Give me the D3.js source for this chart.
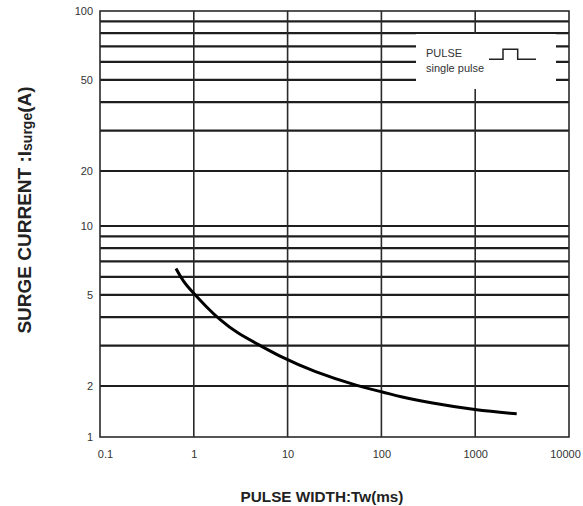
<!DOCTYPE html>
<html>
<head>
<meta charset="utf-8">
<script src="https://cdn.jsdelivr.net/npm/d3@7"></script>
<style>
  html, body { margin: 0; padding: 0; background: #fff; }
  svg { display: block; font-family: "Liberation Sans", Arial, sans-serif; }
</style>
</head>
<body>
<svg id="chart" width="583" height="506"></svg>
<script>
// ---- data ----
const xTickValues = [0.1, 1, 10, 100, 1000, 10000];
const xTickLabels = ["0.1", "1", "10", "100", "1000", "10000"];
const yTickValues = [1, 2, 5, 10, 20, 50, 100];
const yTickLabels = ["1", "2", "5", "10", "20", "50", "100"];
const xGridValues = [1, 10, 100, 1000];
const yGridValues = [2, 3, 4, 5, 6, 7, 8, 9, 10, 20, 30, 40, 50, 60, 70, 80, 90];
// pulse width (ms) and surge current (A)
const pulseWidth   = [0.646, 0.773, 0.957, 1.37, 1.9, 2.87, 5.08, 8.3, 18.8, 59, 105, 158, 330, 1010, 2770];
const surgeCurrent = [6.52, 5.71, 5.17, 4.42, 3.89, 3.41, 3.01, 2.69, 2.31, 1.98, 1.84, 1.73, 1.59, 1.44, 1.37];
const legendLines = ["PULSE", "single pulse"];

// ---- layout ----
const svg = d3.select("#chart");
const pL = 100, pR = 569, pT = 11, pB = 437;

const x = d3.scaleLog().domain([0.1, 10000]).range([pL, pR]);
// log paper as printed: piecewise log mapping
const y = d3.scaleLog().domain([1, 2, 10, 20, 100]).range([pB, 386, 226, 171, pT]);

const g = svg.append("g");

// horizontal grid lines
g.selectAll("line.hg").data(yGridValues).enter().append("line")
  .attr("class", "hg")
  .attr("x1", pL).attr("x2", pR)
  .attr("y1", d => y(d)).attr("y2", d => y(d))
  .attr("stroke", "#1e1e1e").attr("stroke-width", 2.2);

// vertical grid lines
g.selectAll("line.vg").data(xGridValues).enter().append("line")
  .attr("class", "vg")
  .attr("x1", d => x(d)).attr("x2", d => x(d))
  .attr("y1", pT).attr("y2", pB)
  .attr("stroke", "#2a2a2a").attr("stroke-width", 1.6);

// frame
g.append("rect")
  .attr("x", pL).attr("y", pT)
  .attr("width", pR - pL).attr("height", pB - pT)
  .attr("fill", "none").attr("stroke", "#2a2a2a").attr("stroke-width", 1.6);

// legend box (covers grid)
const lg = svg.append("g").attr("transform", "translate(416,34)");
lg.append("rect").attr("x", 0).attr("y", 0).attr("width", 140).attr("height", 55).attr("fill", "#fff");
lg.selectAll("text").data(legendLines).enter().append("text")
  .attr("x", 10).attr("y", (d, i) => 22.5 + i * 15)
  .attr("font-size", 11).attr("fill", "#333")
  .text(d => d);
const pulse = d3.path();
pulse.moveTo(73, 25.3); pulse.lineTo(87, 25.3); pulse.lineTo(87, 15.3);
pulse.lineTo(101.7, 15.3); pulse.lineTo(101.7, 25.3); pulse.lineTo(120, 25.3);
lg.append("path").attr("d", pulse.toString()).attr("fill", "none")
  .attr("stroke", "#222").attr("stroke-width", 1.5);

// curve
const line = d3.line()
  .x(d => x(d[0])).y(d => y(d[1]))
  .curve(d3.curveBasis);
svg.append("path")
  .datum(pulseWidth.map((v, i) => [v, surgeCurrent[i]]))
  .attr("d", line)
  .attr("fill", "none").attr("stroke", "#000").attr("stroke-width", 3)
  .attr("stroke-linecap", "butt");

// axes
const xAxis = d3.axisBottom(x).tickValues(xTickValues)
  .tickFormat((d, i) => xTickLabels[i]).tickSize(0).tickPadding(13);
const xa = svg.append("g").attr("transform", `translate(0,${pB})`).call(xAxis);
xa.select(".domain").remove();
xa.selectAll("text").attr("font-size", 11).attr("fill", "#333")
  .attr("font-family", "Liberation Sans, Arial, sans-serif")
  .attr("dx", (d, i) => i === 0 ? 5 : (i === xTickValues.length - 1 ? -4 : 0));

const yAxis = d3.axisLeft(y).tickValues(yTickValues)
  .tickFormat((d, i) => yTickLabels[i]).tickSize(0).tickPadding(7);
const ya = svg.append("g").attr("transform", `translate(${pL},0)`).call(yAxis);
ya.select(".domain").remove();
ya.selectAll("text").attr("font-size", 11).attr("fill", "#333")
  .attr("font-family", "Liberation Sans, Arial, sans-serif");

// axis titles
svg.append("text")
  .attr("x", 322).attr("y", 502)
  .attr("text-anchor", "middle")
  .attr("font-size", 15.3).attr("font-weight", "bold").attr("fill", "#222")
  .text("PULSE WIDTH:Tw(ms)");

const yt = svg.append("text")
  .attr("transform", "translate(31,210) rotate(-90)")
  .attr("text-anchor", "middle")
  .attr("font-size", 19).attr("font-weight", "bold").attr("fill", "#222");
yt.append("tspan").text("SURGE CURRENT :I");
yt.append("tspan").attr("font-size", 14).attr("dy", 1).text("surge");
yt.append("tspan").attr("dy", -1).text("(A)");
</script>
</body>
</html>
